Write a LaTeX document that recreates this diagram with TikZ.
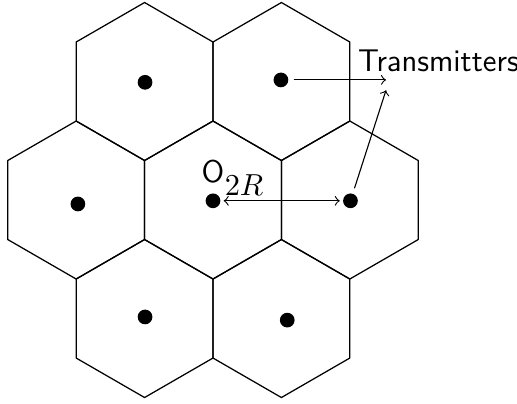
\documentclass[tikz,border=0pt]{standalone}
\usetikzlibrary{positioning}
\begin{document}
\begin{tikzpicture}[x=1cm,y=1cm,line cap=round,line join=round,every node/.style={font=\sffamily\fontsize{11.3}{13}\selectfont}]
  \tikzset{dot/.style={circle,fill=black,inner sep=0pt,minimum size=5.3pt},
    cell/.style={line width=0.45pt}}
  \useasboundingbox (-2.696,-2.570) rectangle (3.848,2.532);
  % seven cells, centre cell at the origin
  \foreach \cx/\cy in {0/0, 1.732/0, 0.866/1.5, -0.866/1.5, -1.732/0, -0.866/-1.5, 0.866/-1.5}
    \draw[cell] (\cx,\cy) +(90:1) -- +(150:1) -- +(210:1) -- +(270:1) -- +(330:1) -- +(30:1) -- cycle;
  \node[dot] (O) at (0,-0.01) {};
  \node[dot] (E) at (1.74,-0.01) {};
  \node[dot] (NE) at (0.86,1.52) {};
  \node[dot] (NW) at (-0.86,1.49) {};
  \node[dot] (W) at (-1.71,-0.05) {};
  \node[dot] (SW) at (-0.86,-1.48) {};
  \node[dot] (SE) at (0.94,-1.52) {};
  \node[above=0pt] at (O.north) (Olab) {O};
  \node[anchor=base west,inner sep=0pt] (tx) at (1.83,1.63) {Transmitters};
  \coordinate (tipA) at (2.19,1.52);
  \coordinate (tipB) at (2.19,1.39);
  \draw[->,shorten <=2pt] (NE) -- (tipA);
  \draw[->,shorten <=2pt] (E) -- (tipB);
  \draw[<->,shorten <=1pt,shorten >=1pt] (O) -- node[above=-1.5pt,pos=0.19,font=\fontsize{11.3}{13}\selectfont] (dist) {$2R$} (E);
\end{tikzpicture}
\end{document}
